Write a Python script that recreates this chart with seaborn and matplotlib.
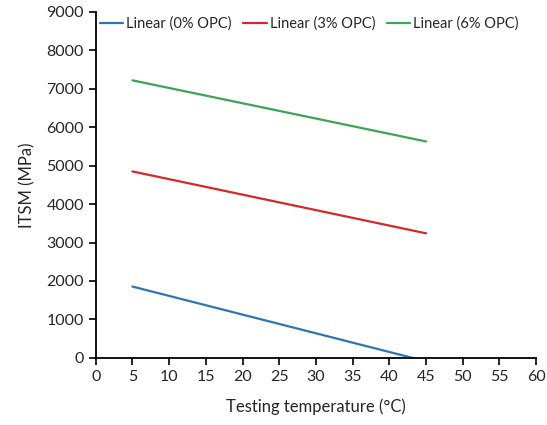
import matplotlib
matplotlib.use("Agg")
import matplotlib.pyplot as plt
import pandas as pd
import seaborn as sns

# trend lines (start and end temperature)
temps = [5, 45]
itsm_0 = [1855, -90]
itsm_3 = [4850, 3240]
itsm_6 = [7220, 5630]
labels = ["Linear (0% OPC)", "Linear (3% OPC)", "Linear (6% OPC)"]
colors = ["#2e75b6", "#d62828", "#3aa655"]

rows = []
for lab, vals in zip(labels, [itsm_0, itsm_3, itsm_6]):
    for t, v in zip(temps, vals):
        rows.append({"temp": t, "itsm": v, "series": lab})
df = pd.DataFrame(rows)

sns.set_style("ticks")
plt.rcParams["font.family"] = ["Lato", "DejaVu Sans"]

fig, ax = plt.subplots(figsize=(5.47, 4.25), dpi=100)
sns.lineplot(data=df, x="temp", y="itsm", hue="series", palette=colors,
             linewidth=1.6, ax=ax)

ax.set_xlim(0, 60)
ax.set_ylim(0, 9000)
ax.set_xticks(range(0, 61, 5))
ax.set_yticks(range(0, 9001, 1000))
ax.set_xlabel("Testing temperature (°C)", fontsize=12, labelpad=11)
ax.set_ylabel("ITSM (MPa)", fontsize=12, labelpad=8)
ax.tick_params(labelsize=11.5, length=5, width=1.2, color="black")
for s in ["left", "bottom"]:
    ax.spines[s].set_linewidth(1.3)
    ax.spines[s].set_color("black")
sns.despine(ax=ax)

ax.legend(loc="upper left", bbox_to_anchor=(-0.02, 1.025), ncol=3, frameon=False,
          fontsize=10.5, handlelength=1.6, handletextpad=0.2, columnspacing=0.8)

fig.subplots_adjust(left=0.175, right=0.98, top=0.972, bottom=0.158)
fig.savefig("out.png")
